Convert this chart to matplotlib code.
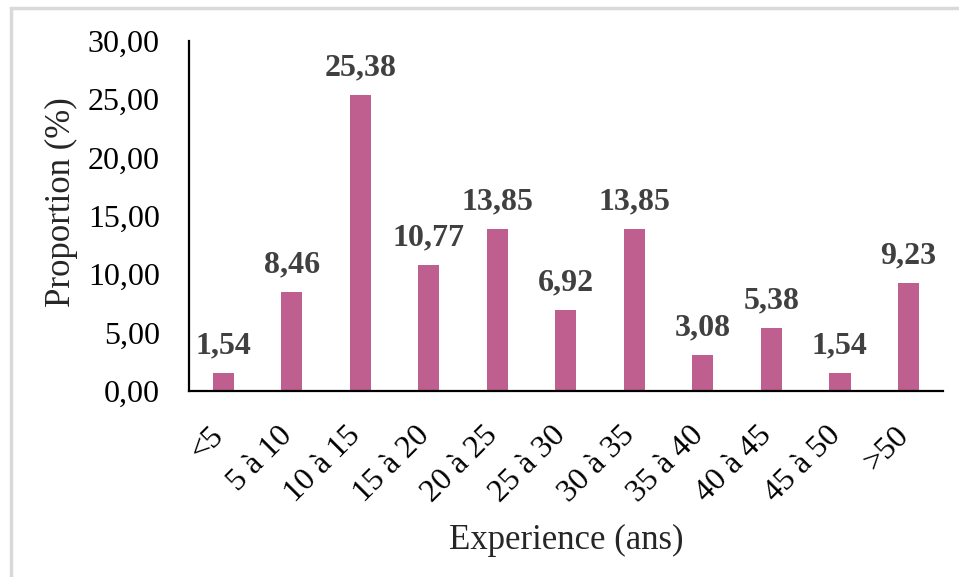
import numpy as np
import matplotlib.pyplot as plt
import matplotlib.transforms as mtransforms
from matplotlib.patches import Rectangle

plt.rcParams['font.family'] = ['Liberation Serif', 'DejaVu Serif']

categories = ["<5", "5 à 10", "10 à 15", "15 à 20", "20 à 25", "25 à 30",
              "30 à 35", "35 à 40", "40 à 45", "45 à 50", ">50"]
proportions = [1.54, 8.46, 25.38, 10.77, 13.85, 6.92, 13.85, 3.08, 5.38, 1.54, 9.23]
yticks = [0, 5, 10, 15, 20, 25, 30]

fig = plt.figure(figsize=(9.59, 5.77), dpi=100)
ax = fig.add_axes([0.197, 0.3224, 0.786, 0.607])

# light frame around the chart area
fig.patches.append(Rectangle((11/959, -0.05), 1.2, 1 - 8/577 + 0.05,
                             transform=fig.transFigure, fill=False,
                             edgecolor='#D9D9D9', linewidth=2.5))

x = np.arange(len(categories))
bars = ax.bar(x, proportions, width=0.31, color='#BE5F8F')

for xi, v in zip(x, proportions):
    ax.annotate(f"{v:.2f}".replace('.', ','), (xi, v), xytext=(0, 9),
                textcoords='offset points', ha='center', va='bottom',
                fontsize=23, fontweight='bold', color='#404040')

ax.set_xlim(-0.5, len(categories) - 0.5)
ax.set_ylim(0, 30)
ax.set_yticks(yticks)
ax.set_yticklabels([f"{t:.2f}".replace('.', ',') for t in yticks], fontsize=23)
ax.set_xticks(x)
ax.set_xticklabels(categories, fontsize=23, rotation=45, ha='right',
                   rotation_mode='anchor', va='center')
ax.tick_params(axis='both', length=0)
ax.tick_params(axis='x', pad=29)
ax.tick_params(axis='y', pad=21)

# nudge the slanted labels a little to the left
shift = mtransforms.ScaledTranslation(-4/100, 0, fig.dpi_scale_trans)
for lab in ax.get_xticklabels():
    lab.set_transform(lab.get_transform() + shift)

for s in ['top', 'right']:
    ax.spines[s].set_visible(False)
for s in ['left', 'bottom']:
    ax.spines[s].set_linewidth(1.6)
    ax.spines[s].set_color('black')

ax.set_ylabel("Proportion (%)", fontsize=25, color='#262626')
ax.yaxis.set_label_coords(-0.147, 0.54)
ax.set_xlabel("Experience (ans)", fontsize=25, color='#262626')
ax.xaxis.set_label_coords(0.5, -0.38)

fig.savefig("out.png", dpi=100, facecolor='white')
